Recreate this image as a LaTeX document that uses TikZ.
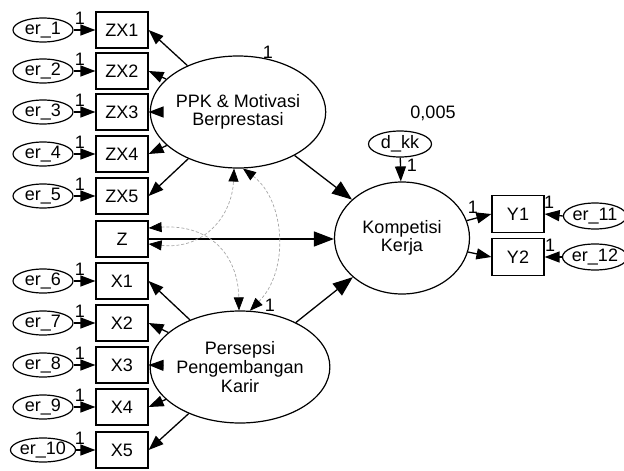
\documentclass[tikz,border=0pt]{standalone}
\usepackage{fontspec}
\setmainfont{Liberation Sans}
\usetikzlibrary{shapes.geometric,arrows.meta}
\begin{document}
\begin{tikzpicture}[x=1pt,y=-1pt,
  font=\fontsize{18}{18}\selectfont,
  err/.style={draw,ellipse,line width=1.2pt,minimum width=60pt,minimum height=24pt,inner sep=0pt},
  obs/.style={draw,rectangle,line width=1.2pt,minimum width=52pt,minimum height=36pt,inner sep=0pt},
  lat/.style={draw,ellipse,line width=1.2pt,minimum width=137pt,minimum height=112pt,inner sep=0pt,align=center},
  arr/.style={line width=1.3pt,-{Triangle[length=15pt,width=11pt]}},
  bigarr/.style={line width=1.3pt,-{Triangle[length=20pt,width=15pt]}},
  cov/.style={gray!70,line width=0.7pt,dash pattern=on 3pt off 2pt,{Triangle[length=13pt,width=10pt,black]}-{Triangle[length=13pt,width=10pt,black]}},
  one/.style={inner sep=0pt}
]
\useasboundingbox (0,0) rectangle (624,471);
% latent variables
\node[lat] (ppk) at (238,112) {PPK \& Motivasi\\Berprestasi};
\node[lat,font=\fontsize{18}{19}\selectfont] (pk) at (240,367) {Persepsi\\Pengembangan\\Karir};
\node[lat,minimum width=135pt] (kk) at (402,238) {Kompetisi\\Kerja};
\node[err,minimum width=63pt,minimum height=26pt] (dkk) at (400,144) {d\_kk};
% first block
\foreach \i/\y in {1/30,2/71,3/112,4/154,5/196}{
  \node[err] (e\i) at (43,\y) {er\_\i};
  \node[obs] (zx\i) at (122,\y) {ZX\i};
  \draw[arr] (e\i) -- (zx\i);
  \node[one] at (80,\y-12) {1};
  \draw[arr] (ppk) -- (zx\i.east);
}
% Z
\node[obs] (z) at (122,239) {Z};
% second block
\foreach \i/\j/\y in {6/1/281,7/2/323,8/3/365,9/4/407,10/5/450}{
  \node[err] (e\i) at (43,\y) {er\_\i};
  \node[obs] (x\j) at (122,\y) {X\j};
  \draw[arr] (e\i) -- (x\j);
  \node[one] at (80,\y-12) {1};
  \draw[arr] (pk) -- (x\j.east);
}
% outcome indicators
\node[obs,minimum height=37pt] (y1) at (518,214) {Y1};
\node[obs,minimum height=37pt] (y2) at (518,257) {Y2};
\node[err,minimum width=60pt,minimum height=26pt] (e11) at (595,216) {er\_11};
\node[err,minimum width=60pt,minimum height=26pt] (e12) at (595,257) {er\_12};
% structural paths
\draw[bigarr] (ppk) -- (kk);
\draw[bigarr] (pk) -- (kk);
\draw[bigarr] (z.east) -- (kk.west |- z.east);
\draw[arr] (dkk) -- (kk);
\draw[arr] (kk) -- (y1.west);
\draw[arr] (kk) -- (y2.west);
\draw[arr] (e11.west) -- (y1.east);
\draw[arr] (e12.west) -- (y2.east);
% covariances
\draw[cov] ([yshift=11pt]z.east) .. controls (210,224) and (238,255) .. (pk.91);
\draw[cov] ([yshift=-5pt]z.east) .. controls (205,250) and (232,215) .. (ppk.266);
\draw[cov] (ppk.275) .. controls (285,200) and (290,270) .. (pk.80);
% labels
\node[one] (l1) at (268,52) {1};
\node[one] (l2) at (270,305) {1};
\node[one] (l3) at (433,113) {0,005};
\node[one] (l4) at (412,165) {1};
\node[one] (l5) at (473,207) {1};
\node[one] (l6) at (549,202) {1};
\node[one] (l7) at (550,245) {1};
\end{tikzpicture}
\end{document}
